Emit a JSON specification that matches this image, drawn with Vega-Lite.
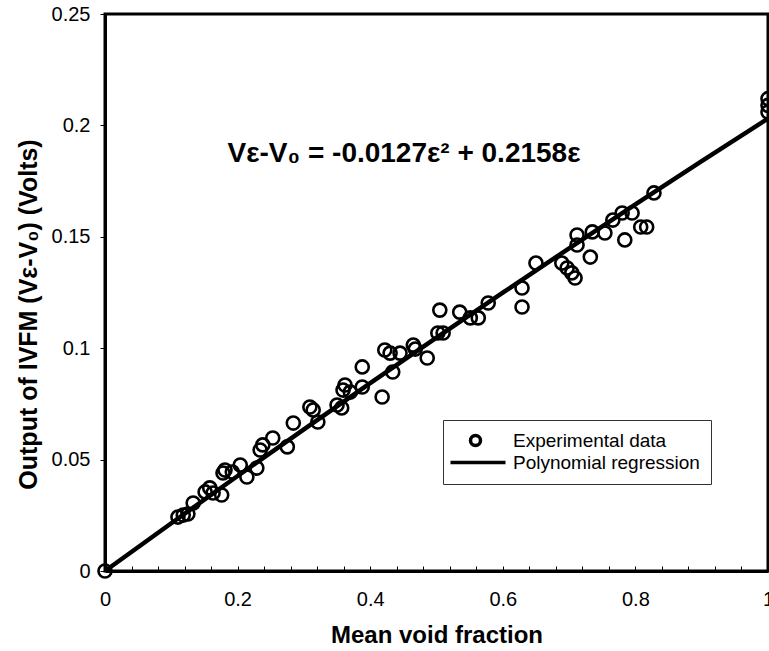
{
  "$schema": "https://vega.github.io/schema/vega-lite/v6.json",
  "autosize": "none",
  "width": 663,
  "height": 557,
  "padding": {"left": 105, "top": 14, "right": 1, "bottom": 80},
  "background": "white",
  "config": {
    "font": "Liberation Sans",
    "view": {"stroke": "black", "strokeWidth": 3},
    "axis": {"grid": false, "domainColor": "black", "domainWidth": 3, "tickColor": "black", "labelColor": "black", "titleColor": "black", "labelFont": "Liberation Sans", "titleFont": "Liberation Sans"}
  },
  "datasets": {
    "obs": [
      {"eps": 0.0, "volts": 0.0, "series": "Experimental data"},
      {"eps": 0.110, "volts": 0.0242, "series": "Experimental data"},
      {"eps": 0.118, "volts": 0.0251, "series": "Experimental data"},
      {"eps": 0.125, "volts": 0.0256, "series": "Experimental data"},
      {"eps": 0.133, "volts": 0.0305, "series": "Experimental data"},
      {"eps": 0.151, "volts": 0.0355, "series": "Experimental data"},
      {"eps": 0.158, "volts": 0.0373, "series": "Experimental data"},
      {"eps": 0.163, "volts": 0.0350, "series": "Experimental data"},
      {"eps": 0.176, "volts": 0.0341, "series": "Experimental data"},
      {"eps": 0.178, "volts": 0.0440, "series": "Experimental data"},
      {"eps": 0.181, "volts": 0.0453, "series": "Experimental data"},
      {"eps": 0.192, "volts": 0.0444, "series": "Experimental data"},
      {"eps": 0.204, "volts": 0.0476, "series": "Experimental data"},
      {"eps": 0.214, "volts": 0.0422, "series": "Experimental data"},
      {"eps": 0.229, "volts": 0.0462, "series": "Experimental data"},
      {"eps": 0.234, "volts": 0.0543, "series": "Experimental data"},
      {"eps": 0.238, "volts": 0.0566, "series": "Experimental data"},
      {"eps": 0.253, "volts": 0.0597, "series": "Experimental data"},
      {"eps": 0.275, "volts": 0.0557, "series": "Experimental data"},
      {"eps": 0.284, "volts": 0.0664, "series": "Experimental data"},
      {"eps": 0.309, "volts": 0.0736, "series": "Experimental data"},
      {"eps": 0.314, "volts": 0.0723, "series": "Experimental data"},
      {"eps": 0.321, "volts": 0.0669, "series": "Experimental data"},
      {"eps": 0.350, "volts": 0.0745, "series": "Experimental data"},
      {"eps": 0.357, "volts": 0.0732, "series": "Experimental data"},
      {"eps": 0.362, "volts": 0.0835, "series": "Experimental data"},
      {"eps": 0.359, "volts": 0.0812, "series": "Experimental data"},
      {"eps": 0.370, "volts": 0.0803, "series": "Experimental data"},
      {"eps": 0.388, "volts": 0.0826, "series": "Experimental data"},
      {"eps": 0.388, "volts": 0.0916, "series": "Experimental data"},
      {"eps": 0.418, "volts": 0.0781, "series": "Experimental data"},
      {"eps": 0.422, "volts": 0.0992, "series": "Experimental data"},
      {"eps": 0.430, "volts": 0.0978, "series": "Experimental data"},
      {"eps": 0.434, "volts": 0.0893, "series": "Experimental data"},
      {"eps": 0.445, "volts": 0.0978, "series": "Experimental data"},
      {"eps": 0.465, "volts": 0.1014, "series": "Experimental data"},
      {"eps": 0.468, "volts": 0.0996, "series": "Experimental data"},
      {"eps": 0.486, "volts": 0.0956, "series": "Experimental data"},
      {"eps": 0.502, "volts": 0.1068, "series": "Experimental data"},
      {"eps": 0.510, "volts": 0.1068, "series": "Experimental data"},
      {"eps": 0.505, "volts": 0.1171, "series": "Experimental data"},
      {"eps": 0.535, "volts": 0.1162, "series": "Experimental data"},
      {"eps": 0.551, "volts": 0.1136, "series": "Experimental data"},
      {"eps": 0.563, "volts": 0.1136, "series": "Experimental data"},
      {"eps": 0.578, "volts": 0.1203, "series": "Experimental data"},
      {"eps": 0.629, "volts": 0.1270, "series": "Experimental data"},
      {"eps": 0.629, "volts": 0.1185, "series": "Experimental data"},
      {"eps": 0.650, "volts": 0.1382, "series": "Experimental data"},
      {"eps": 0.689, "volts": 0.1382, "series": "Experimental data"},
      {"eps": 0.697, "volts": 0.1360, "series": "Experimental data"},
      {"eps": 0.704, "volts": 0.1338, "series": "Experimental data"},
      {"eps": 0.709, "volts": 0.1315, "series": "Experimental data"},
      {"eps": 0.712, "volts": 0.1508, "series": "Experimental data"},
      {"eps": 0.712, "volts": 0.1463, "series": "Experimental data"},
      {"eps": 0.732, "volts": 0.1409, "series": "Experimental data"},
      {"eps": 0.735, "volts": 0.1522, "series": "Experimental data"},
      {"eps": 0.754, "volts": 0.1517, "series": "Experimental data"},
      {"eps": 0.766, "volts": 0.1575, "series": "Experimental data"},
      {"eps": 0.780, "volts": 0.1607, "series": "Experimental data"},
      {"eps": 0.795, "volts": 0.1607, "series": "Experimental data"},
      {"eps": 0.784, "volts": 0.1486, "series": "Experimental data"},
      {"eps": 0.808, "volts": 0.1544, "series": "Experimental data"},
      {"eps": 0.817, "volts": 0.1544, "series": "Experimental data"},
      {"eps": 0.828, "volts": 0.1697, "series": "Experimental data"},
      {"eps": 1.0, "volts": 0.206, "series": "Experimental data"},
      {"eps": 1.0, "volts": 0.209, "series": "Experimental data"},
      {"eps": 1.0, "volts": 0.212, "series": "Experimental data"}
    ],
    "fit": [
      {"eps": 0.0, "volts": 0.0},
      {"eps": 0.1, "volts": 0.021453},
      {"eps": 0.2, "volts": 0.042652},
      {"eps": 0.3, "volts": 0.063597},
      {"eps": 0.4, "volts": 0.084288},
      {"eps": 0.5, "volts": 0.104725},
      {"eps": 0.6, "volts": 0.124908},
      {"eps": 0.7, "volts": 0.144837},
      {"eps": 0.8, "volts": 0.164512},
      {"eps": 0.9, "volts": 0.183933},
      {"eps": 1.0, "volts": 0.2031}
    ],
    "note": [
      {"eps": 0.451, "volts": 0.187, "label": "Vε-V₀ = -0.0127ε² + 0.2158ε"}
    ]
  },
  "encoding": {
    "x": {
      "field": "eps", "type": "quantitative",
      "scale": {"domain": [0, 1], "nice": false, "zero": false},
      "axis": {
        "title": "Mean void fraction",
        "titleFontSize": 24, "titleFontWeight": "bold",
        "titleBaseline": "middle", "titleY": 64,
        "values": [0, 0.04, 0.08, 0.12, 0.16, 0.2, 0.24, 0.28, 0.32, 0.36, 0.4, 0.44, 0.48, 0.52, 0.56, 0.6, 0.64, 0.68, 0.72, 0.76, 0.8, 0.84, 0.88, 0.92, 0.96, 1],
        "labelExpr": "abs(datum.value * 5 - round(datum.value * 5)) < 0.000001 ? format(datum.value, '~g') : ''",
        "labelFontSize": 20, "labelPadding": 23, "labelFlush": false, "labelOverlap": false,
        "tickSize": -5
      }
    },
    "y": {
      "field": "volts", "type": "quantitative",
      "scale": {"domain": [0, 0.25], "nice": false, "zero": false},
      "axis": {
        "title": "Output of IVFM (Vε-V₀)   (Volts)",
        "titleFontSize": 25, "titleFontWeight": "bold",
        "titleAngle": -90, "titleBaseline": "middle", "titleAlign": "center",
        "titleX": -77, "titleY": 300,
        "values": [0, 0.05, 0.1, 0.15, 0.2, 0.25],
        "format": "~g",
        "labelFontSize": 20, "labelPadding": 10, "labelFlush": false, "labelOverlap": false,
        "tickSize": 5
      }
    }
  },
  "layer": [
    {
      "data": {"name": "fit"},
      "mark": {"type": "line", "color": "black", "strokeWidth": 4.5},
      "encoding": {}
    },
    {
      "data": {"name": "obs"},
      "mark": {"type": "point", "filled": false, "color": "black", "size": 170, "strokeWidth": 2.6, "opacity": 1},
      "encoding": {
        "shape": {
          "field": "series", "type": "nominal",
          "scale": {"domain": ["Experimental data", "Polynomial regression"], "range": ["circle", "M-5,0L6,0"]},
          "legend": {
            "title": null,
            "orient": "none", "legendX": 338, "legendY": 406,
            "strokeColor": "#333",
            "padding": 11, "rowPadding": 0,
            "symbolSize": 100, "symbolStrokeWidth": 3.5, "symbolStrokeColor": "black", "symbolFillColor": "transparent",
            "symbolOffset": 12, "labelOffset": 28,
            "labelFontSize": 19, "labelColor": "black", "labelFont": "Liberation Sans", "labelLimit": 400
          }
        }
      }
    },
    {
      "data": {"name": "note"},
      "mark": {"type": "text", "font": "Liberation Sans", "fontSize": 28, "fontWeight": "bold", "color": "black", "baseline": "middle", "align": "center"},
      "encoding": {"text": {"field": "label"}}
    }
  ]
}
